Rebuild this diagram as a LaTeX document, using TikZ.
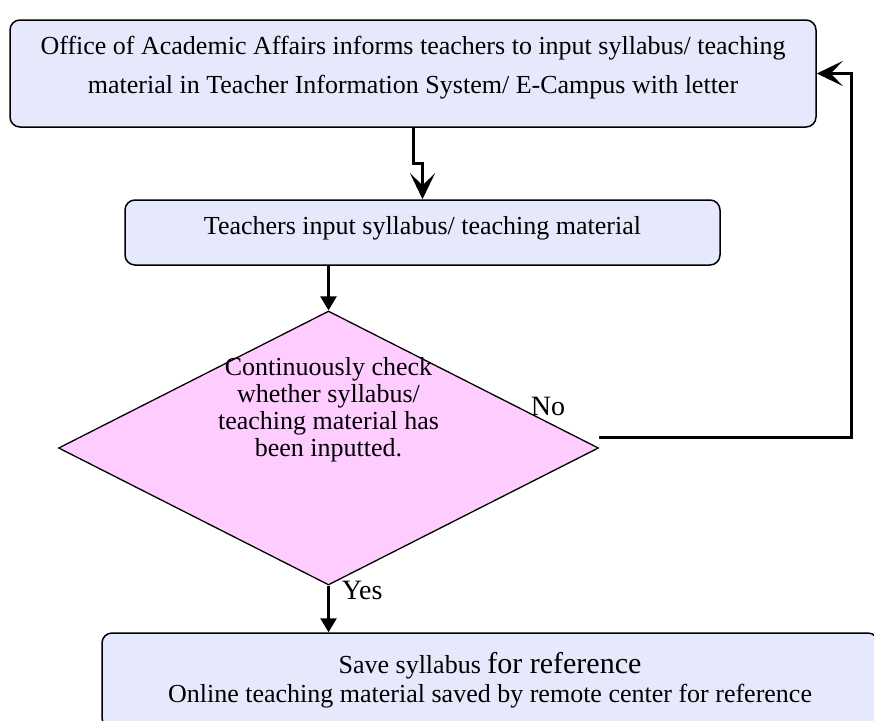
\documentclass[tikz,border=0pt]{standalone}
\usepackage{fontspec}
\setmainfont{Liberation Serif}
\usetikzlibrary{arrows.meta,shapes.geometric}
\definecolor{boxblue}{RGB}{229,233,251}
\definecolor{decpink}{RGB}{255,204,255}

\begin{document}
\begin{tikzpicture}[x=1pt,y=-1pt,
		procbox/.style={draw,line width=1.5pt,fill=boxblue,rounded corners=10pt,align=center,inner sep=0pt},
		decbox/.style={draw,line width=1.3pt,fill=decpink,diamond,shape aspect=2,inner sep=0pt},
		bigflow/.style={line width=3pt,-{Stealth[length=26pt,width=25pt,inset=12pt]}},
		smallflow/.style={line width=2.5pt,-{Triangle[length=14pt,width=16pt]}}]
	\useasboundingbox (0,0) rectangle (874,720);
	\clip (0,0) rectangle (874,720);

	% boxes
	\node[procbox,minimum width=806pt,minimum height=107pt,text depth=17pt,font=\fontsize{26}{39}\selectfont] (inform) at (413,73.5)
		{Office of Academic Affairs informs teachers to input syllabus/ teaching\\material in Teacher Information System/ E-Campus with letter};
	\node[procbox,minimum width=595pt,minimum height=65pt,text depth=14pt,font=\fontsize{26}{30}\selectfont] (input) at (422.5,232.5)
		{Teachers input syllabus/ teaching material};
	\node[decbox,minimum width=540pt,minimum height=274pt,
		label={[yshift=38pt,align=center,font=\fontsize{26}{27}\selectfont]center:Continuously check\\whether syllabus/\\teaching material has\\been inputted.}] (check) at (328.5,448) {};
	\node[procbox,minimum width=776pt,minimum height=95pt,font=\fontsize{26}{29}\selectfont] (save) at (490,680.5)
		{Save syllabus {\fontsize{30}{29}\selectfont for reference}\\Online teaching material saved by remote center for reference};

	% flow
	\draw[bigflow] (inform.south) -- ++(0,36) -| (input.north);
	\draw[smallflow] (input.south -| check.north) -- (check.north);
	\draw[smallflow] (check.south) -- (check.south |- save.north) node[pos=0.1,right,xshift=10pt,font=\fontsize{28}{28}\selectfont,inner sep=2pt] {Yes};
	\draw[bigflow] ([yshift=11pt]check.east) -| ([xshift=35pt]inform.east) -- (inform.east);

	\node[font=\fontsize{28}{28}\selectfont] (no) at (548,406) {No};
\end{tikzpicture}
\end{document}
